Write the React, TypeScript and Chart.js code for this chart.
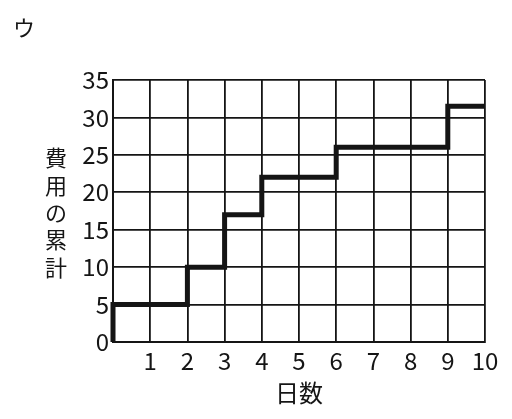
import {useEffect, useRef} from "react";
import {Chart, registerables} from "chart.js";

Chart.register(...registerables);

// step corners of the cumulative cost line (stepped: "before" = across, then up)
const days = [0, 0, 2, 3, 4, 6, 9, 10];
const cumulativeCost = [0, 5, 10, 17, 22, 26, 31.5, 31.5];

// axis labels
const xTickLabels = ["", "1", "2", "3", "4", "5", "6", "7", "8", "9", "10"];
const yTickLabels = ["0", "5", "10", "15", "20", "25", "30", "35"];
const yTitleChars = ["費", "用", "の", "累", "計"];
const xTitle = "日数";
const panelLabel = "ウ";

const FONT = "'Noto Sans CJK JP', 'Noto Sans', sans-serif";
const INK = "#151515";

// draws the panel mark and the stacked vertical y title
const extraText = {
  id: "extraText",
  afterDraw(chart: Chart) {
    const ctx = chart.ctx;
    ctx.save();
    ctx.fillStyle = INK;
    ctx.textAlign = "center";
    ctx.textBaseline = "middle";
    ctx.font = `22px ${FONT}`;
    ctx.fillText(panelLabel, 24, 28);
    yTitleChars.forEach((ch, i) => {
      ctx.fillText(ch, 56, 158 + i * 27.3);
    });
    ctx.restore();
  },
};

export default function App() {
  const chartRef = useRef<HTMLCanvasElement>(null);
  const chartInstance = useRef<Chart | null>(null);

  useEffect(() => {
    if (!chartRef.current) return;
    if (chartInstance.current) chartInstance.current.destroy();

    const ctx = chartRef.current.getContext("2d");
    if (!ctx) return;

    chartInstance.current = new Chart(ctx, {
      type: "line",
      data: {
        datasets: [
          {
            data: days.map((d, i) => ({x: d, y: cumulativeCost[i]})),
            borderColor: INK,
            borderWidth: 5,
            pointRadius: 0,
            stepped: "before",
            fill: false,
            clip: false,
          },
        ],
      },
      options: {
        animation: false,
        responsive: false,
        layout: {padding: {left: 68, right: 27, top: 80, bottom: 0}},
        plugins: {
          legend: {display: false},
          tooltip: {enabled: false},
        },
        scales: {
          x: {
            type: "linear",
            min: 0,
            max: 10,
            ticks: {
              stepSize: 1,
              color: INK,
              padding: 4,
              maxRotation: 0,
              font: {family: FONT, size: 24},
              callback: v => xTickLabels[Number(v)] ?? "",
            },
            grid: {color: INK, lineWidth: 1.8, drawTicks: false},
            border: {color: INK, width: 2},
            title: {
              display: true,
              text: xTitle,
              color: INK,
              font: {family: FONT, size: 24},
              padding: {top: 0, bottom: 12},
            },
            afterFit: scale => {
              scale.height = 77;
            },
          },
          y: {
            min: 0,
            max: 35,
            ticks: {
              stepSize: 5,
              color: INK,
              padding: 4,
              font: {family: FONT, size: 24},
              callback: v => yTickLabels[Number(v) / 5] ?? "",
            },
            grid: {color: INK, lineWidth: 1.8, drawTicks: false},
            border: {color: INK, width: 2},
            afterFit: scale => {
              scale.width = 45;
            },
          },
        },
      },
      plugins: [extraText],
    });

    return () => {
      if (chartInstance.current) {
        chartInstance.current.destroy();
        chartInstance.current = null;
      }
    };
  }, []);

  return (
    <div style={{position: "absolute", left: 0, top: 0, width: 512, height: 419, background: "#fff"}}>
      <canvas ref={chartRef} width={512} height={419} />
    </div>
  );
}
